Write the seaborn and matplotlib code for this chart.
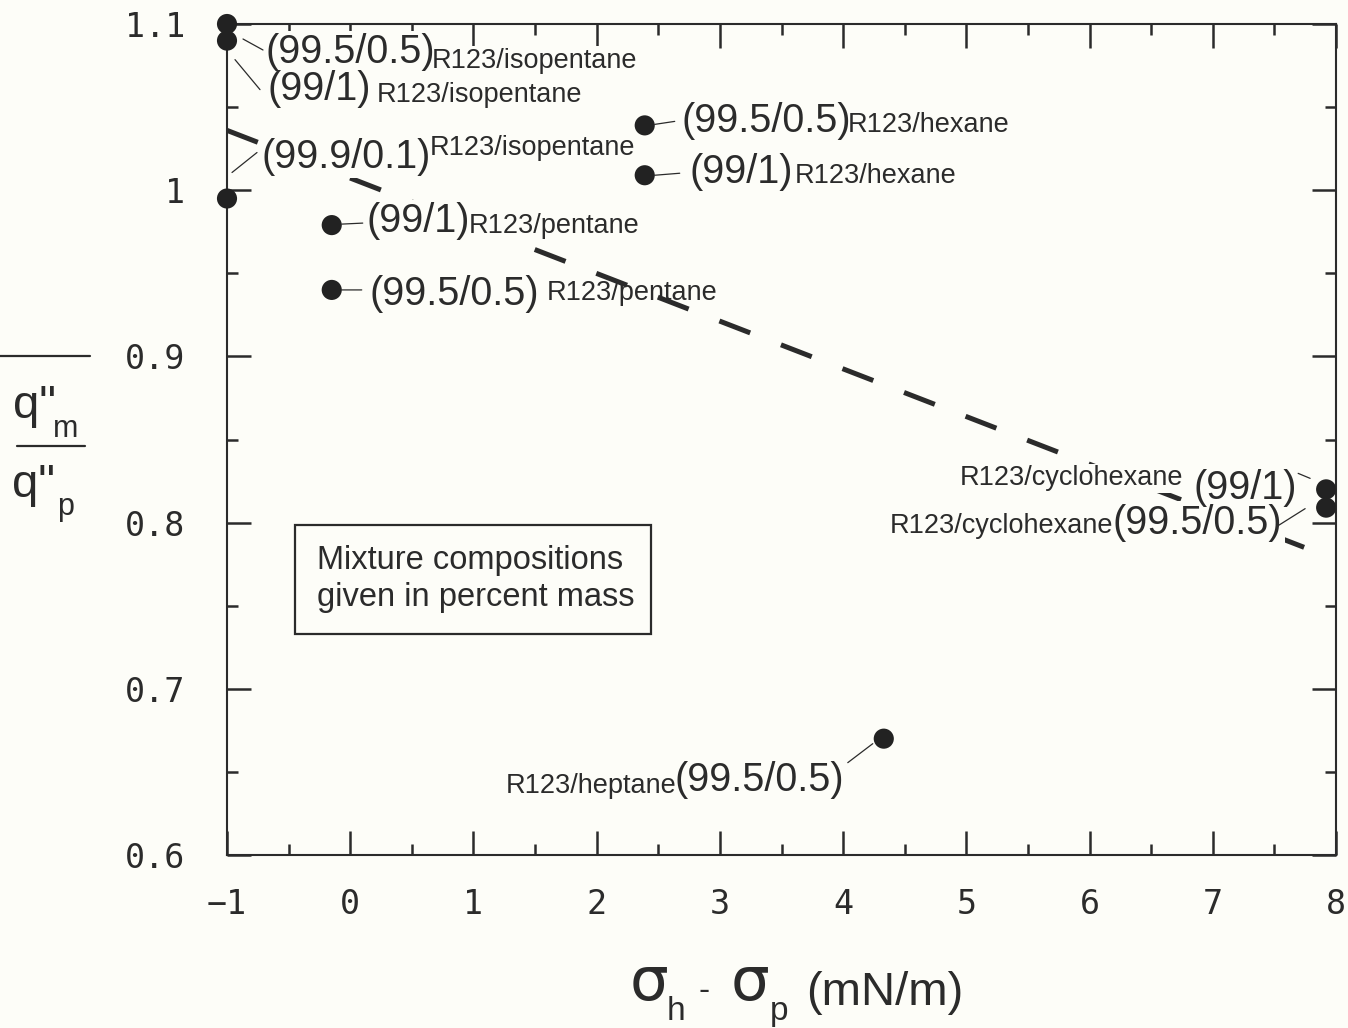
import matplotlib
matplotlib.use("Agg")
import matplotlib.pyplot as plt
import seaborn as sns
import pandas as pd
from matplotlib.transforms import offset_copy
from matplotlib.lines import Line2D
from matplotlib.patches import Rectangle
from matplotlib.ticker import MultipleLocator

# ---------------- data ----------------
sigma_diff = [-1.0, -1.0, -1.0, -0.15, -0.15, 2.39, 2.39, 7.92, 7.92, 4.33]
q_ratio = [1.100, 1.090, 0.995, 0.979, 0.940, 1.039, 1.009, 0.820, 0.809, 0.670]
compositions = ["(99.5/0.5)", "(99/1)", "(99.9/0.1)", "(99/1)", "(99.5/0.5)",
                "(99.5/0.5)", "(99/1)", "(99/1)", "(99.5/0.5)", "(99.5/0.5)"]
mixtures = ["R123/isopentane", "R123/isopentane", "R123/isopentane",
            "R123/pentane", "R123/pentane", "R123/hexane", "R123/hexane",
            "R123/cyclohexane", "R123/cyclohexane", "R123/heptane"]
trend_x = [-1.0, 7.85]
trend_y = [1.036, 0.782]
x_ticks = [-1, 0, 1, 2, 3, 4, 5, 6, 7, 8]
x_tick_labels = ["\u22121", "0", "1", "2", "3", "4", "5", "6", "7", "8"]
y_ticks = [0.6, 0.7, 0.8, 0.9, 1.0, 1.1]
y_tick_labels = ["0.6", "0.7", "0.8", "0.9", "1", "1.1"]
note_text = "Mixture compositions\ngiven in percent mass"

# ---------------- layout (pixel offsets, y downwards) ----------------
# comp: (dx, dy baseline, ha); mix: (dx, dy baseline, ha); leader: (x1,y1,x2,y2); bg comp, bg mix
label_layout = [
    ((38, 39, "left"), (205, 44, "left"), (16, 15, 36, 26), True, True),
    ((41, 59, "left"), (150, 61, "left"), (8, 19, 33, 49), True, True),
    ((35, -31, "left"), (203, -44, "left"), (5, -26, 30, -46), True, True),
    ((35, 7, "left"), (137, 8, "left"), (10, -1, 31, -2), True, True),
    ((38, 15, "left"), (215, 10, "left"), (10, 0, 30, 0), True, False),
    ((37, 7, "left"), (203, 7, "left"), (10, -1, 30, -4), True, True),
    ((45, 8, "left"), (150, 8, "left"), (10, 0, 35, -2), True, True),
    ((-29, 10, "right"), (-143, -4, "right"), (-28, -16, -16, -11), True, True),
    ((-44, 26, "right"), (-213, 25, "right"), (-48, 18, -21, 1), True, True),
    ((-40, 52, "right"), (-207, 54, "right"), (-36, 24, -11, 5), True, True),
]

W, H = 1348, 1028
BG = "#fdfdf8"
INK = "#2b2b2b"

sns.set_theme(style="ticks")
plt.rcParams["font.family"] = ["Liberation Sans", "DejaVu Sans"]

fig = plt.figure(figsize=(W / 100, H / 100), dpi=100)
fig.patch.set_facecolor(BG)
ax = fig.add_axes([227 / W, 1 - 855 / H, (1336 - 227) / W, (855 - 24) / H])
ax.set_facecolor(BG)

df = pd.DataFrame({"x": sigma_diff, "y": q_ratio})
line_df = pd.DataFrame({"x": trend_x, "y": trend_y})

sns.lineplot(data=line_df, x="x", y="y", ax=ax, color=INK, lw=3.6, zorder=2)
ax.lines[-1].set_linestyle((0, (6.6, 6.6)))
ax.lines[-1].set_dash_capstyle("butt")

sns.scatterplot(data=df, x="x", y="y", ax=ax, s=210, color="#222222",
                edgecolor="none", zorder=5, clip_on=False)

ax.set_xlim(-1, 8)
ax.set_ylim(0.6, 1.1)
ax.set_xticks(x_ticks)
ax.set_xticklabels(x_tick_labels)
ax.set_yticks(y_ticks)
ax.set_yticklabels(y_tick_labels)
ax.xaxis.set_minor_locator(MultipleLocator(0.5))
ax.yaxis.set_minor_locator(MultipleLocator(0.05))
ax.set_xlabel("")
ax.set_ylabel("")

for s in ax.spines.values():
    s.set_visible(True)
    s.set_linewidth(1.5)
    s.set_color(INK)

ax.tick_params(axis="both", which="major", direction="in", length=17, width=1.8,
               color=INK, top=True, right=True)
ax.tick_params(axis="both", which="minor", direction="in", length=8, width=1.8,
               color=INK, top=True, right=True)
ax.tick_params(axis="x", which="major", pad=24, labelsize=24, labelcolor=INK)
ax.tick_params(axis="y", which="major", pad=30, labelsize=24, labelcolor=INK)
for lab in ax.get_xticklabels() + ax.get_yticklabels():
    lab.set_family(["DejaVu Sans Mono"])


def px(dx, dy):
    return offset_copy(ax.transData, fig=fig, x=dx, y=-dy, units="dots")


comp_font = ["Liberation Sans Narrow", "Liberation Sans"]
bb = dict(boxstyle="square,pad=0.06", fc=BG, ec="none")


def put(x, y, s, dx, dy, ha, size, family, bg):
    if bg:  # background knock-out drawn beneath every glyph
        ax.text(x, y, s, transform=px(dx, dy), ha=ha, va="baseline", fontsize=size,
                family=family, color=(0, 0, 0, 0), zorder=2.5, bbox=bb)
    ax.text(x, y, s, transform=px(dx, dy), ha=ha, va="baseline", fontsize=size,
            family=family, color=INK, zorder=3.5)


for x, y, comp, mix, lay in zip(sigma_diff, q_ratio, compositions, mixtures, label_layout):
    (cdx, cdy, cha), (mdx, mdy, mha), (l1x, l1y, l2x, l2y), cb, mb = lay
    put(x, y, comp, cdx, cdy, cha, 28.5, comp_font, cb)
    put(x, y, mix, mdx, mdy, mha, 19.5, ["Liberation Sans"], mb)
    ax.annotate("", xy=(x, y), xycoords=px(l1x, l1y), xytext=(x, y),
                textcoords=px(l2x, l2y),
                arrowprops=dict(arrowstyle="-", lw=0.9, color=INK,
                                shrinkA=0, shrinkB=0), zorder=4)

# note box
fig.patches.append(Rectangle((295 / W, 1 - 634 / H), (651 - 295) / W, (634 - 525) / H,
                             transform=fig.transFigure, fill=False, ec=INK, lw=1.6))
fig.text(317 / W, 1 - 606 / H, note_text, ha="left", va="baseline", fontsize=23.5,
         color=INK, linespacing=1.25, family=["Liberation Sans"])


# y label (fraction)
def fx(v):
    return v / W


def fy(v):
    return 1 - v / H


fig.add_artist(Line2D([fx(0), fx(90)], [fy(356), fy(356)], color=INK, lw=1.6))
fig.add_artist(Line2D([fx(17), fx(85)], [fy(446), fy(446)], color=INK, lw=1.6))
fig.text(fx(13), fy(418), 'q"', fontsize=34, color=INK, va="baseline", ha="left")
fig.text(fx(53), fy(437), "m", fontsize=22, color=INK, va="baseline", ha="left")
fig.text(fx(12), fy(497), 'q"', fontsize=34, color=INK, va="baseline", ha="left")
fig.text(fx(57), fy(515), "p", fontsize=22, color=INK, va="baseline", ha="left")

# x label
fig.text(fx(630), fy(1000), "\u03c3", fontsize=44, color=INK, va="baseline",
         ha="left", family=["DejaVu Sans"])
fig.text(fx(667), fy(1020), "h", fontsize=24, color=INK, va="baseline", ha="left")
fig.text(fx(699), fy(1000), "-", fontsize=24, color=INK, va="baseline", ha="left")
fig.text(fx(731), fy(1000), "\u03c3", fontsize=44, color=INK, va="baseline",
         ha="left", family=["DejaVu Sans"])
fig.text(fx(770), fy(1020), "p", fontsize=24, color=INK, va="baseline", ha="left")
fig.text(fx(806), fy(1005), "(mN/m)", fontsize=34, color=INK, va="baseline",
         ha="left", family=comp_font)

fig.savefig("out.png", dpi=100, facecolor=BG)
